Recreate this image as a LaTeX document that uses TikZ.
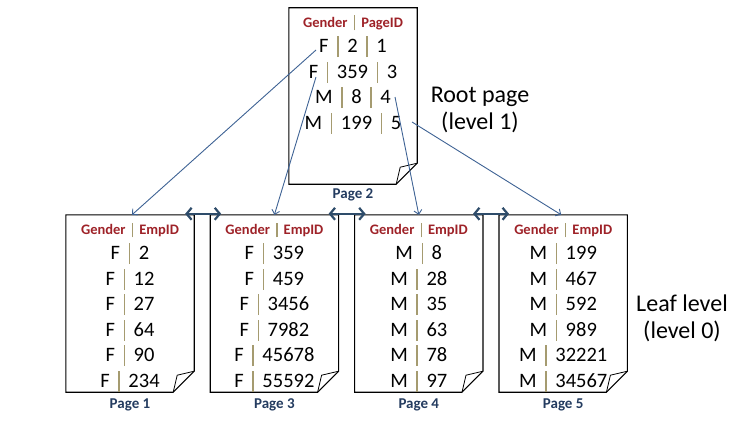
\documentclass[tikz,border=0pt]{standalone}
\usepackage{fontspec}
\setmainfont{Carlito}
\usetikzlibrary{positioning,arrows.meta}
\definecolor{hdrred}{RGB}{158,34,40}
\definecolor{pageblue}{RGB}{36,60,96}
\definecolor{sepgold}{RGB}{165,155,112}
\definecolor{linkblue}{RGB}{62,98,148}
\definecolor{arrdark}{RGB}{46,76,106}
\newcommand{\sepbar}{\hspace{0.42em}{\color{sepgold}\rule[-0.22em]{1.5pt}{1.02em}}\hspace{0.42em}}
\newcommand{\hdr}[1]{{\fontsize{14.5}{25.5}\selectfont\bfseries\color{hdrred}#1}}

\begin{document}
\begin{tikzpicture}[x=1pt,y=-1pt,every node/.style={inner sep=0pt},
  page/.style={minimum width=128pt,minimum height=177pt},
  rows/.style={align=center,font=\fontsize{20.5}{25.5}\selectfont},
  pagelbl/.style={font=\fontsize{15}{17}\selectfont\bfseries,text=pageblue},
  note/.style={align=center,font=\fontsize{24}{27}\selectfont},
  link/.style={linkblue,line width=0.9pt,-{Straight Barb[length=4pt,width=8pt]}},
  sibling/.style={arrdark,line width=2.2pt,{Straight Barb[length=5pt,width=12pt]}-{Straight Barb[length=5pt,width=12pt]}}]
\useasboundingbox (0,0) rectangle (746,433);
% root page and leaf pages
\node[page,minimum height=176pt] (p2) at (353,96) {};
\node[page] (p1) at (130,303.5) {};
\node[page,right=16pt of p1] (p3) {};
\node[page,right=16pt of p3] (p4) {};
\node[page,right=16pt of p4] (p5) {};
\foreach \pg in {p2,p1,p3,p4,p5}{
  \draw[line width=1.1pt] ([yshift=21pt]\pg.south east) -- (\pg.north east) -- (\pg.north west)
    -- (\pg.south west) -- ([xshift=-21pt]\pg.south east) -- cycle;
  \draw[line width=0.8pt] ([xshift=-21pt]\pg.south east) -- ([xshift=-17pt,yshift=17pt]\pg.south east)
    -- ([yshift=21pt]\pg.south east);
}
% page contents
\node[rows,below=7.5pt of p2.north] (t2) {\hdr{Gender\sepbar PageID}\\
  F\sepbar 2\sepbar 1\\ F\sepbar 359\sepbar 3\\ M\sepbar 8\sepbar 4\\ M\sepbar 199\sepbar 5};
\node[rows,below=7.5pt of p1.north] (t1) {\hdr{Gender\sepbar EmpID}\\
  F\sepbar 2\\ F\sepbar 12\\ F\sepbar 27\\ F\sepbar 64\\ F\sepbar 90\\ F\sepbar 234};
\node[rows,below=7.5pt of p3.north] (t3) {\hdr{Gender\sepbar EmpID}\\
  F\sepbar 359\\ F\sepbar 459\\ F\sepbar 3456\\ F\sepbar 7982\\ F\sepbar 45678\\ F\sepbar 55592};
\node[rows,below=7.5pt of p4.north] (t4) {\hdr{Gender\sepbar EmpID}\\
  M\sepbar 8\\ M\sepbar 28\\ M\sepbar 35\\ M\sepbar 63\\ M\sepbar 78\\ M\sepbar 97};
\node[rows,below=7.5pt of p5.north] (t5) {\hdr{Gender\sepbar EmpID}\\
  M\sepbar 199\\ M\sepbar 467\\ M\sepbar 592\\ M\sepbar 989\\ M\sepbar 32221\\ M\sepbar 34567};
% page labels
\node[pagelbl,below=4pt of p2] (l2) {Page 2};
\node[pagelbl,below=6pt of p1] (l1) {Page 1};
\node[pagelbl,below=6pt of p3] (l3) {Page 3};
\node[pagelbl,below=6pt of p4] (l4) {Page 4};
\node[pagelbl,below=6pt of p5] (l5) {Page 5};
% level notes
\node[note] (rootlvl) at (480,110) {Root page\\(level 1)};
\node[note] (leaflvl) at (682,318) {Leaf level\\(level 0)};
% root entries to leaf pages
\coordinate (k1) at (316,50);
\coordinate (k2) at (316,77);
\coordinate (k3) at (395,97);
\coordinate (k4) at (412,122);
\draw[link] (k1) -- ([xshift=2pt]p1.north);
\draw[link] (k2) -- (p3.north);
\draw[link] (k3) -- (p4.north);
\draw[link] (k4) -- ([xshift=-2pt]p5.north);
% leaf chain
\draw[sibling] ([xshift=-9pt,yshift=1pt]p1.north east) -- ([xshift=11pt,yshift=1pt]p3.north west);
\draw[sibling] ([xshift=-10pt,yshift=1pt]p3.north east) -- ([xshift=11pt,yshift=1pt]p4.north west);
\draw[sibling] ([xshift=-10pt,yshift=1pt]p4.north east) -- ([xshift=10pt,yshift=1pt]p5.north west);
\end{tikzpicture}
\end{document}
